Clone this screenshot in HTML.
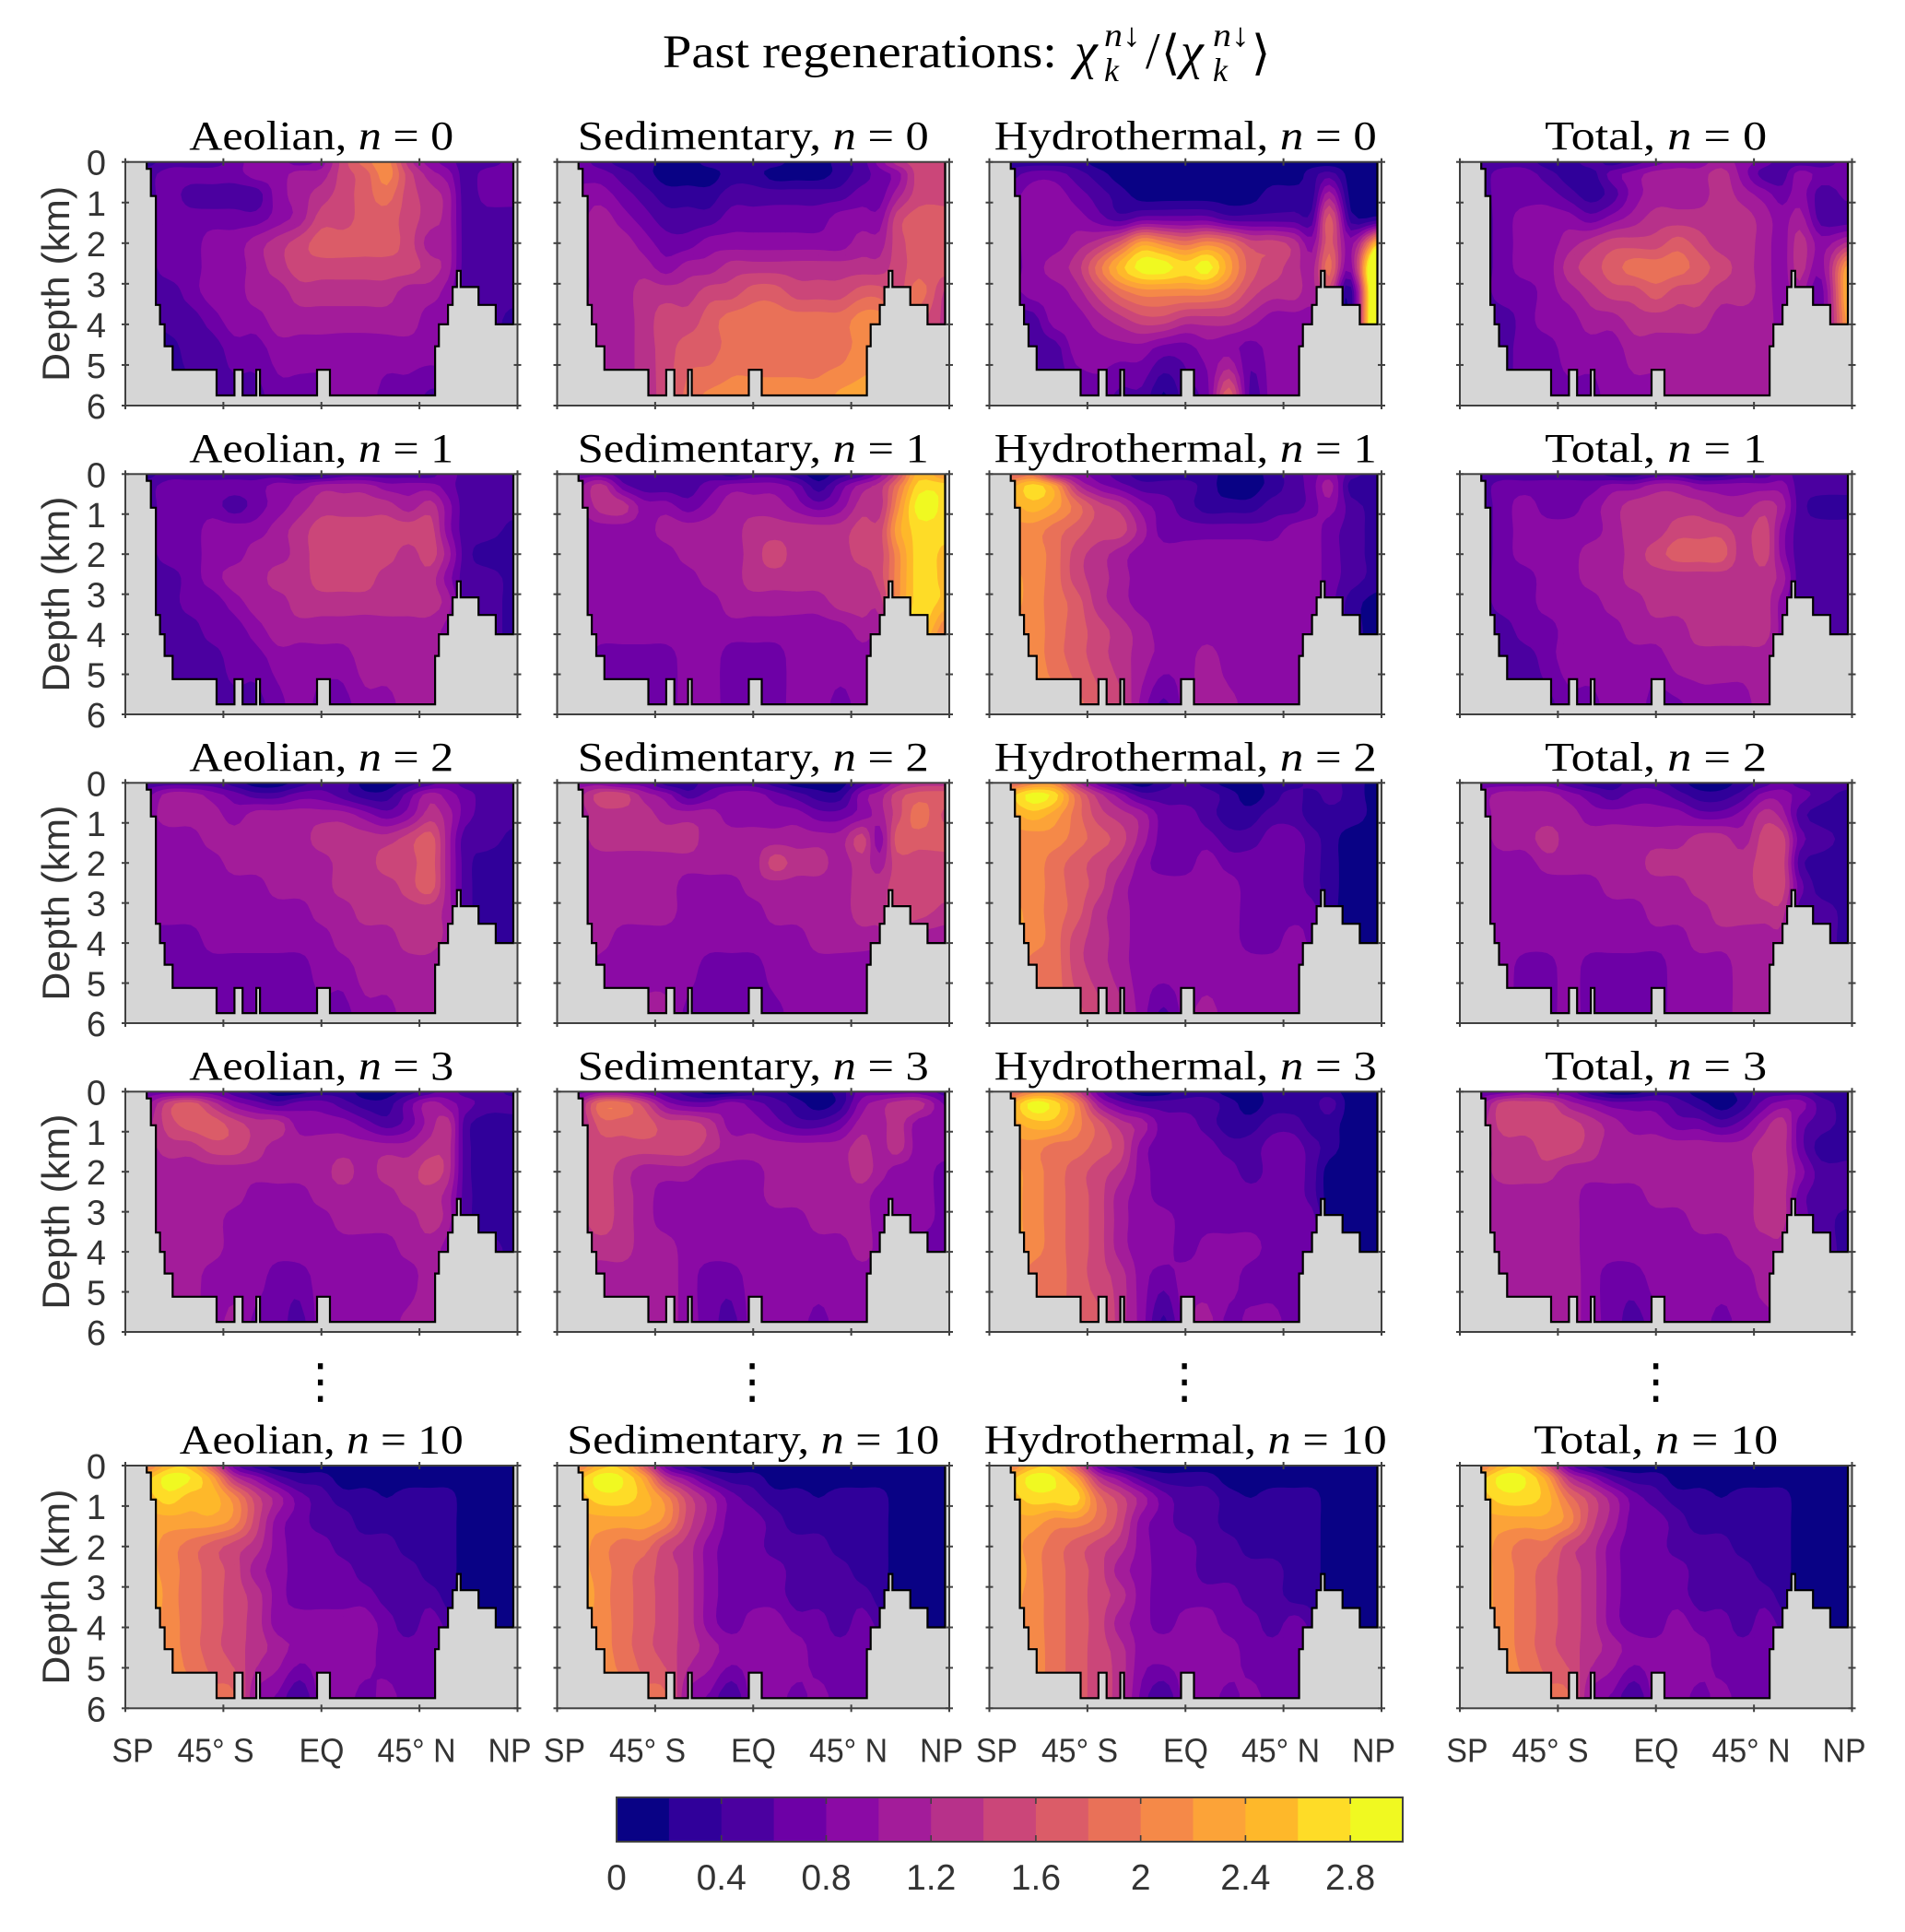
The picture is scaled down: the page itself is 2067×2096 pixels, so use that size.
<!DOCTYPE html>
<html lang="en">
<head>
<meta charset="utf-8">
<title>Past regenerations</title>
<style>
html,body{margin:0;padding:0;background:#fff;}
svg{display:block;}
.ser{font-family:"Liberation Serif","DejaVu Serif","DejaVu Sans",serif;fill:#000;}
.san{font-family:"Liberation Sans","DejaVu Sans",sans-serif;fill:#333;}
</style>
</head>
<body>
<svg id="fig" xmlns="http://www.w3.org/2000/svg" width="2067" height="2096" viewBox="0 0 2067 2096">
<rect x="0" y="0" width="2067" height="2096" fill="#fff"/>
<g>
<text class="ser" x="719" y="73" font-size="51" textLength="428" lengthAdjust="spacingAndGlyphs">Past regenerations:</text>
<text class="ser" x="1166" y="74" font-size="56" font-style="italic">χ</text>
<text class="ser" x="1198" y="50" font-size="36" font-style="italic" textLength="40" lengthAdjust="spacingAndGlyphs">n↓</text>
<text class="ser" x="1198" y="88" font-size="36" font-style="italic">k</text>
<text class="ser" x="1243" y="74" font-size="56">/</text>
<text class="ser" x="1260" y="75" font-size="52">⟨</text>
<text class="ser" x="1281" y="74" font-size="56" font-style="italic">χ</text>
<text class="ser" x="1316" y="50" font-size="36" font-style="italic" textLength="40" lengthAdjust="spacingAndGlyphs">n↓</text>
<text class="ser" x="1316" y="88" font-size="36" font-style="italic">k</text>
<text class="ser" x="1358" y="75" font-size="52">⟩</text>
</g>
</svg>
<script>
// Grid of every panel: latitude (deg) and depth (km). Values are in tenths of chi/<chi>.
const lats=[-81,-70,-60,-50,-40,-30,-20,-10,0,10,20,30,40,50,58,66,76,90];
const depths=[0,0.3,0.8,1.4,2,2.6,3.2,3.9,4.6,6];
const depthTicks=[0,1,2,3,4,5,6];
const latTicks=[-90,-45,0,45,90];
const latTickLabels=["SP","45° S","EQ","45° N","NP"];
const bandColors=["#090285","#30009a","#4b00a0","#6d00a6","#8b0aa5","#a31c9a","#b7318a","#cb4679","#db5c68","#e97158","#f58948","#fca338","#feb82a","#fedc27","#f0f921"];
const colorbarTicks=[0,0.4,0.8,1.2,1.6,2,2.4,2.8];
const colorbarLabels=["0","0.4","0.8","1.2","1.6","2","2.4","2.8"];
const bathyEdges=[-80.2,-78.3,-76,-74.1,-72,-68.3,-48.1,-39.9,-36.2,-29.9,-28.2,-2,3.9,52.2,53.9,58.1,60.2,62.2,63.9,72.1,80,88.1];
const bathyDepths=[0.17,0.84,3.52,4,4.54,5.12,5.75,5.12,5.75,5.12,5.75,5.12,5.75,4.54,4,3.52,3.08,2.68,3.08,3.52,4];

const aeolianN0=[[3,5,5,5,7,9,9,7,9,15,19,21,13,9,7,5,5,7],[5,7,7,7,7,9,9,11,11,15,17,21,15,11,9,5,7,7],[5,7,5,5,5,5,9,11,13,15,17,19,15,13,11,5,7,7],[5,7,7,7,7,7,9,11,15,15,17,17,15,13,11,5,5,5],[5,7,7,9,9,11,13,15,17,17,17,17,15,11,11,5,5,5],[5,7,7,9,9,11,13,15,15,15,15,15,15,13,11,5,5,5],[5,5,7,9,9,11,11,13,13,13,13,13,11,11,9,5,5,5],[3,5,5,7,9,9,11,11,11,11,11,11,11,9,9,5,5,3],[3,3,5,5,7,7,9,9,9,9,9,9,9,9,9,5,5,3],[3,3,3,5,5,5,7,7,7,9,9,7,7,5,5,5,5,3]];
const sedimentaryN0=[[7,5,3,3,1,1,3,3,3,3,1,1,3,5,9,13,15,15],[7,7,5,3,1,1,1,3,3,1,1,1,3,5,7,9,15,15],[9,9,7,5,3,3,3,5,5,5,5,5,5,7,7,11,15,15],[9,11,9,7,5,5,5,7,7,7,7,7,9,9,9,15,17,17],[9,11,11,9,7,7,9,9,9,9,9,9,9,11,11,15,17,17],[9,11,11,11,9,11,11,13,13,13,13,13,13,13,13,15,17,17],[9,11,11,13,13,13,15,15,17,17,15,15,15,17,17,15,19,13],[11,11,11,13,15,15,17,19,19,19,19,19,19,21,21,19,17,13],[11,11,11,13,15,17,17,19,19,19,19,19,19,21,21,19,17,13],[11,11,11,13,15,19,21,21,21,21,21,21,23,23,23,23,17,13]];
const hydrothermalN0=[[3,3,3,3,1,1,1,1,1,1,1,1,1,1,1,1,1,1],[5,7,7,5,3,1,1,1,1,1,1,1,1,1,3,5,1,1],[7,9,9,7,5,3,1,1,1,1,1,1,3,3,3,11,1,1],[7,9,9,9,7,5,7,7,7,7,5,5,5,5,5,17,3,3],[7,9,9,11,13,17,23,21,19,21,19,15,15,13,9,17,9,27],[7,9,11,13,19,25,29,29,27,29,23,17,15,13,11,19,9,45],[7,9,9,11,15,19,21,21,21,21,19,15,13,13,11,15,3,45],[5,5,9,9,11,13,15,15,13,13,13,11,9,9,9,9,3,45],[3,5,5,9,9,9,9,7,7,9,9,7,9,9,9,9,3,45],[5,5,5,5,7,5,5,1,5,7,19,5,9,9,9,9,3,45]];
const totalN0=[[5,5,5,3,3,5,3,5,7,9,9,11,9,7,5,5,5,7],[5,7,7,5,3,3,7,9,11,11,11,13,9,5,5,9,7,7],[5,7,7,7,5,3,5,9,11,11,11,13,11,9,7,9,5,7],[5,7,9,9,9,7,9,11,13,13,13,13,13,11,9,11,5,5],[5,7,9,9,11,13,15,15,15,17,15,13,13,11,9,13,9,13],[5,7,9,9,13,15,17,19,19,19,17,15,13,11,9,13,9,25],[5,7,7,9,11,13,15,15,17,15,15,13,13,11,9,11,7,27],[5,5,7,9,9,11,11,13,13,13,13,11,11,11,9,9,7,25],[3,5,7,7,9,9,9,11,11,11,11,11,11,11,9,9,7,23],[3,5,7,7,7,7,9,9,9,11,11,11,11,11,9,9,7,23]];

const aeolianN1=[[3,5,5,5,5,5,5,3,3,5,5,5,5,5,7,5,5,5],[5,7,7,7,7,7,9,9,11,11,11,9,9,9,7,5,5,5],[5,7,7,7,5,7,9,11,13,13,13,13,11,13,9,5,5,5],[5,7,7,9,9,9,11,13,15,15,15,15,15,15,9,5,5,3],[5,7,7,9,9,11,11,13,15,15,15,15,13,15,11,5,3,3],[5,5,7,9,11,11,13,13,15,15,15,13,13,13,9,5,5,3],[5,5,7,7,9,11,11,13,13,13,13,13,13,13,11,5,5,3],[5,5,5,7,7,9,11,11,11,11,11,11,11,11,9,5,5,3],[5,5,5,5,7,7,9,9,9,9,11,11,11,11,9,5,5,3],[5,5,5,5,5,5,7,9,7,7,9,9,11,11,9,5,3,3]];
const sedimentaryN1=[[7,7,5,5,5,5,5,3,5,5,3,1,3,5,9,15,25,21],[9,13,7,5,5,5,7,9,9,9,7,3,7,11,13,19,27,27],[9,13,13,9,9,7,9,11,11,11,9,7,9,13,13,21,29,27],[9,9,9,9,11,11,11,11,13,13,13,13,13,15,15,23,27,27],[9,9,9,9,9,11,11,11,13,15,13,13,13,15,15,21,27,25],[9,9,9,9,9,9,11,11,13,13,13,13,13,13,15,21,27,25],[9,9,9,9,9,9,9,11,11,11,11,11,13,13,13,21,27,25],[9,9,9,9,9,9,9,9,9,9,9,9,9,11,11,21,27,19],[9,7,7,7,7,9,9,7,7,7,9,9,9,9,9,13,19,19],[7,7,7,7,7,9,9,7,7,7,9,9,7,9,9,13,19,19]];
const hydrothermalN1=[[17,19,11,9,7,5,3,3,3,3,1,1,3,5,7,9,5,3],[23,27,23,13,9,7,5,5,5,3,1,1,3,5,7,11,3,3],[23,25,23,19,15,13,9,7,5,3,3,3,5,5,7,9,5,3],[21,21,19,17,15,15,11,7,7,7,7,7,7,9,9,7,5,3],[21,21,19,15,13,11,9,9,9,9,9,9,9,9,9,7,5,3],[23,21,19,15,13,11,9,9,9,9,9,9,9,9,9,7,5,3],[23,21,19,17,13,11,9,9,9,9,9,9,9,9,9,7,3,1],[21,21,19,17,15,13,11,9,9,9,9,9,9,9,9,7,3,1],[21,21,19,17,15,13,11,9,9,11,9,9,9,9,9,7,3,1],[21,21,21,19,17,15,9,5,9,11,11,9,9,9,9,7,3,1]];
const totalN1=[[5,5,5,5,5,5,3,3,5,5,3,3,5,5,7,5,5,5],[5,7,7,7,7,7,9,9,11,11,9,9,9,9,9,5,5,5],[5,7,9,7,7,9,11,13,13,13,13,11,11,13,11,5,3,3],[5,7,9,9,9,9,11,13,13,15,15,15,13,15,9,5,5,5],[5,7,9,9,9,11,11,13,15,17,17,17,13,15,9,5,5,5],[5,7,7,9,9,11,11,13,13,13,13,13,13,13,11,5,5,5],[5,7,7,9,9,9,11,11,13,13,13,13,13,13,9,5,5,5],[5,5,7,7,9,9,9,11,11,11,13,13,13,13,9,5,5,5],[5,5,5,7,9,9,9,9,9,11,11,11,11,11,9,5,5,5],[5,5,5,5,7,7,9,9,7,7,9,9,9,11,9,5,5,5]];

const aeolianN2=[[5,5,5,5,3,1,1,3,5,5,1,1,3,5,7,5,5,5],[7,11,11,9,7,5,5,7,7,5,3,3,7,11,9,7,5,5],[9,11,11,11,9,11,11,11,11,11,9,7,9,13,11,7,5,5],[9,9,9,11,11,11,11,11,13,13,13,13,15,17,11,5,5,3],[9,9,9,9,11,11,11,11,11,13,13,15,15,17,11,5,3,3],[9,9,9,9,9,9,11,11,11,13,13,13,15,17,11,5,3,3],[9,9,9,9,9,9,9,9,11,11,13,13,13,13,11,5,3,3],[7,7,7,9,9,9,9,9,9,11,11,11,13,13,11,5,3,3],[7,7,7,7,7,7,7,7,9,9,11,11,11,11,9,5,3,3],[7,7,7,7,7,7,7,7,7,7,9,9,11,11,9,5,3,3]];
const sedimentaryN2=[[9,9,7,7,3,3,5,5,5,3,1,1,1,5,7,11,13,13],[11,15,15,11,9,5,7,9,9,7,5,3,3,9,11,15,17,17],[11,13,13,13,11,11,11,9,9,9,9,7,7,9,11,15,19,15],[11,13,13,13,13,13,11,11,11,11,11,11,11,15,9,17,17,17],[11,11,11,11,11,11,11,11,11,15,13,13,11,13,11,15,15,15],[11,11,11,11,11,9,9,9,11,11,11,11,11,13,13,15,15,15],[11,11,11,11,11,9,9,9,9,11,11,11,11,13,13,15,15,13],[11,11,9,9,9,9,9,9,9,9,9,11,11,11,11,13,11,11],[11,9,9,9,9,9,7,7,7,9,9,9,9,9,9,11,11,11],[9,9,9,11,11,7,7,7,7,7,9,9,9,9,9,11,11,11]];
const hydrothermalN2=[[17,21,21,13,7,3,1,3,5,3,1,1,3,3,5,5,3,1],[25,29,27,19,13,9,5,5,5,5,3,1,3,5,3,5,3,1],[23,25,23,19,15,13,11,7,7,5,3,3,5,5,3,3,3,1],[21,21,21,19,17,15,11,7,7,7,5,5,7,7,5,3,1,1],[21,21,19,17,15,13,9,7,7,9,7,7,7,7,5,3,1,1],[21,21,19,17,15,11,9,9,9,9,9,7,7,7,5,3,1,1],[23,21,19,17,13,11,9,9,9,9,9,7,7,7,7,3,1,1],[23,21,19,15,13,11,9,9,9,9,9,7,7,9,7,3,1,1],[21,19,19,15,13,11,9,9,9,9,9,9,9,9,9,3,1,1],[19,19,19,17,15,13,9,5,9,11,9,9,9,9,9,3,1,1]];
const totalN2=[[7,7,7,7,5,3,3,5,5,3,1,1,3,5,7,5,5,5],[9,11,11,11,9,7,5,7,7,5,3,3,5,9,9,7,5,3],[9,11,11,11,11,9,9,9,9,9,7,7,9,13,11,5,3,3],[9,11,11,13,11,11,11,11,11,11,13,13,11,15,15,7,5,3],[9,9,9,11,11,11,11,11,13,13,13,13,13,15,15,5,3,3],[9,9,9,9,9,9,11,11,11,11,13,13,13,15,15,7,3,3],[9,9,9,9,9,9,9,9,11,11,11,13,13,13,13,5,5,3],[9,9,9,9,9,9,9,9,9,9,11,11,11,11,11,5,5,3],[9,9,7,7,9,7,7,7,7,9,9,9,11,11,11,5,5,3],[9,9,7,7,9,7,7,7,7,9,9,9,11,11,11,5,5,3]];

const aeolianN3=[[7,7,7,7,5,3,1,1,3,3,1,1,3,5,7,5,5,3],[9,15,17,13,9,7,5,7,7,5,3,3,7,11,9,7,5,5],[11,15,17,17,15,13,13,9,9,9,7,5,7,11,13,5,3,3],[11,13,13,15,15,13,11,11,11,11,11,11,11,13,13,5,3,3],[11,11,11,11,11,11,11,11,11,13,11,13,13,15,13,5,3,3],[11,11,11,11,11,9,9,9,11,11,11,11,13,13,11,5,3,3],[11,11,11,11,9,9,9,9,9,11,11,11,11,13,11,5,3,3],[11,11,11,11,9,9,9,9,9,9,9,9,11,11,9,5,5,3],[11,11,11,9,9,9,7,7,9,9,9,9,9,11,9,5,5,3],[11,11,11,9,11,7,7,5,9,9,9,9,11,11,9,5,5,3]];
const sedimentaryN3=[[7,9,9,7,5,3,1,1,3,3,1,1,3,7,7,7,7,5],[11,19,19,15,9,7,7,9,7,5,3,1,3,9,11,13,13,7],[11,17,17,17,15,15,13,9,9,7,5,5,7,11,11,13,9,9],[13,15,15,15,15,15,13,11,11,11,11,11,11,13,11,13,9,9],[13,15,13,11,11,11,9,9,9,11,11,11,11,13,11,9,9,7],[13,15,13,11,9,9,9,9,9,11,11,11,11,11,9,9,9,7],[13,15,13,11,9,9,9,9,9,9,9,11,11,11,9,9,9,7],[13,13,13,11,11,9,9,9,9,9,9,9,9,11,9,7,7,7],[11,11,11,11,11,9,7,7,9,9,9,9,9,9,9,7,7,7],[11,11,11,11,11,9,7,5,9,9,9,7,9,9,9,7,7,7]];
const hydrothermalN3=[[17,21,21,15,7,3,1,1,3,3,1,1,3,3,3,3,1,1],[23,29,27,21,11,7,5,5,5,5,3,1,3,3,3,5,1,1],[23,25,25,21,17,13,11,7,7,5,3,3,5,5,3,3,1,1],[21,21,19,19,17,15,9,7,7,7,5,5,7,7,5,3,1,1],[23,21,19,17,15,13,9,7,7,7,7,5,7,7,5,1,1,1],[23,21,19,17,15,11,9,7,7,7,7,7,7,7,5,1,1,1],[23,21,19,17,15,11,9,9,7,7,7,7,7,7,7,1,1,1],[23,21,19,17,15,11,9,9,7,9,9,9,7,7,7,1,1,1],[21,19,19,17,15,13,9,7,9,9,9,7,7,7,7,1,1,1],[19,19,19,17,17,13,9,3,9,11,7,9,9,7,7,1,1,1]];
const totalN3=[[7,7,9,7,7,3,1,1,3,3,1,1,3,5,5,5,3,3],[9,15,15,15,11,9,7,7,7,5,3,1,3,7,9,9,5,3],[11,15,15,15,15,13,11,9,9,7,7,5,7,11,13,7,5,3],[11,13,13,15,15,13,11,11,11,11,11,11,11,13,13,7,3,3],[11,13,13,13,11,11,11,11,11,11,11,11,11,13,13,9,5,5],[11,11,11,11,11,9,9,9,11,11,11,11,11,13,13,7,5,5],[11,11,11,11,11,9,9,9,9,9,11,11,11,13,13,7,5,3],[11,11,11,11,11,9,9,9,9,9,9,9,11,11,11,5,5,3],[11,11,11,11,11,9,7,7,9,9,9,9,9,11,11,5,5,3],[11,11,11,11,11,9,7,5,7,9,9,7,9,9,9,5,5,3]];

const aeolianN10=[[19,25,25,17,7,3,1,1,1,1,1,1,1,1,1,1,1,1],[25,29,28,23,13,9,5,3,3,1,1,1,1,1,1,1,1,1],[25,27,25,25,21,15,11,7,5,3,3,2,3,3,3,1,1,1],[23,23,23,23,21,15,9,7,5,5,3,3,3,3,3,1,1,1],[23,21,19,17,15,13,9,7,7,5,5,5,3,3,3,1,1,1],[23,21,19,17,15,11,9,7,7,7,5,5,5,3,3,1,1,1],[25,21,19,17,15,13,9,7,7,7,7,5,5,5,3,1,1,1],[23,21,19,17,15,13,9,9,9,9,9,7,5,7,5,1,1,1],[21,21,19,17,15,13,11,9,9,9,9,7,7,7,7,1,1,1],[21,21,21,19,19,9,7,3,9,9,7,9,7,7,7,1,1,1]];
const sedimentaryN10=[[19,25,25,17,7,3,1,1,1,1,1,1,1,1,1,1,1,1],[25,29,28,23,13,9,5,3,3,1,1,1,1,1,1,1,1,1],[25,27,27,25,21,15,11,7,5,3,3,2,3,3,3,1,1,1],[23,23,23,23,21,15,11,7,7,5,3,3,3,3,3,1,1,1],[23,21,19,19,15,13,9,7,7,5,5,5,3,3,3,1,1,1],[23,21,19,17,15,13,9,7,7,7,5,5,5,3,3,1,1,1],[25,21,19,17,15,13,9,7,7,7,5,5,5,5,3,1,1,1],[23,21,19,17,15,13,9,7,9,9,7,7,5,7,5,1,1,1],[21,21,19,17,15,13,11,9,9,9,9,7,7,7,7,1,1,1],[21,21,21,19,19,9,7,3,9,9,7,9,7,7,7,1,1,1]];
const hydrothermalN10=[[19,25,25,17,7,3,1,1,1,1,1,1,1,1,1,1,1,1],[25,29,28,23,13,9,5,3,3,3,1,1,1,1,1,1,1,1],[25,27,27,27,19,15,11,7,5,5,3,2,3,3,3,1,1,1],[23,23,21,21,19,15,9,7,5,5,3,3,3,3,3,1,1,1],[23,21,19,17,15,13,9,7,7,5,5,3,3,3,3,1,1,1],[25,21,19,17,15,11,9,7,7,5,5,5,5,3,3,1,1,1],[23,21,19,17,15,13,9,7,7,7,7,5,5,3,3,1,1,1],[23,21,19,17,15,11,9,7,9,9,7,7,5,7,5,1,1,1],[21,21,19,17,15,13,9,9,9,9,9,7,7,7,7,1,1,1],[21,21,19,17,15,13,7,3,9,9,7,9,7,7,7,1,1,1]];
const totalN10=[[19,25,25,17,7,3,1,1,1,1,1,1,1,1,1,1,1,1],[25,29,28,23,13,9,5,3,3,1,1,1,1,1,1,1,1,1],[25,27,27,25,19,15,11,7,5,3,3,2,3,3,3,1,1,1],[23,23,23,23,21,15,11,7,7,5,3,3,3,3,3,1,1,1],[23,21,19,19,15,13,9,7,7,5,5,5,3,3,3,1,1,1],[23,21,19,17,15,13,9,7,7,7,5,5,5,3,3,1,1,1],[23,21,19,17,15,13,9,7,7,7,5,5,5,5,3,1,1,1],[23,21,19,17,15,13,9,7,7,9,7,7,5,7,5,1,1,1],[21,21,19,17,15,13,11,9,9,9,9,7,7,7,7,1,1,1],[21,21,21,19,19,9,7,3,9,9,7,9,7,7,7,1,1,1]];

const sourceNames=["Aeolian","Sedimentary","Hydrothermal","Total"];
const iterations=[0,1,2,3,10];
const fieldGrid=[
 [aeolianN0,sedimentaryN0,hydrothermalN0,totalN0],
 [aeolianN1,sedimentaryN1,hydrothermalN1,totalN1],
 [aeolianN2,sedimentaryN2,hydrothermalN2,totalN2],
 [aeolianN3,sedimentaryN3,hydrothermalN3,totalN3],
 [aeolianN10,sedimentaryN10,hydrothermalN10,totalN10]
];

// Layout (not data)
const colLeft=[136,604.5,1073.5,1584];
const panelW=425.5;
const rowTop=[175.7,514.3,849.3,1184.3,1590];
const rowH=[264.3,260.7,260.7,260.7,263.3];
const titleW=[287,381,415,241];
const titleW10=[308,404,437,265];
const xLabelOffset=[8,98,213,316,417];
const NS='http://www.w3.org/2000/svg';
const fig=document.getElementById('fig');
function el(tag,attrs,parent){
  const e=document.createElementNS(NS,tag);
  for(const k in attrs){e.setAttribute(k,attrs[k]);}
  parent.appendChild(e);
  return e;
}
function slug(s){return s.toLowerCase();}
function cr(a,b,c,d,t){return 0.5*((2*b)+(c-a)*t+(2*a-5*b+4*c-d)*t*t+(3*b-a-3*c+d)*t*t*t);}
const F=4;
function upsample1(arr){
  const out=[];const n=arr.length;
  for(let i=0;i<n-1;i++){
    for(let s=0;s<F;s++){
      out.push(cr(arr[Math.max(i-1,0)],arr[i],arr[i+1],arr[Math.min(i+2,n-1)],s/F));
    }
  }
  out.push(arr[n-1]);
  return out;
}
function upsampleField(field){
  const rows=field.map(upsample1);
  const nx=rows[0].length;
  const cols=[];
  for(let i=0;i<nx;i++){cols.push(upsample1(rows.map(r=>r[i])));}
  const ny=cols[0].length;
  const res=[];
  for(let j=0;j<ny;j++){const r=[];for(let i=0;i<nx;i++){r.push(cols[i][j]);}res.push(r);}
  return res;
}
function bandPath(z,xs,ys,t){
  const out=[];
  const f=v=>v.toFixed(1);
  for(let j=0;j<ys.length-1;j++){
    let run=-1;
    const r0=z[j],r1=z[j+1];
    for(let i=0;i<xs.length-1;i++){
      const a=r0[i],b=r0[i+1],c=r1[i+1],d=r1[i];
      const full=a>=t&&b>=t&&c>=t&&d>=t;
      if(full){if(run<0)run=i;continue;}
      if(run>=0){
        out.push('M'+f(xs[run])+' '+f(ys[j])+'H'+f(xs[i])+'V'+f(ys[j+1])+'H'+f(xs[run])+'Z');
        run=-1;
      }
      if(a<t&&b<t&&c<t&&d<t)continue;
      const pts=[[xs[i],ys[j],a],[xs[i+1],ys[j],b],[xs[i+1],ys[j+1],c],[xs[i],ys[j+1],d]];
      const poly=[];
      for(let k=0;k<4;k++){
        const p=pts[k],q=pts[(k+1)%4];
        if(p[2]>=t)poly.push([p[0],p[1]]);
        if((p[2]>=t)!==(q[2]>=t)){
          const u=(t-p[2])/(q[2]-p[2]);
          poly.push([p[0]+(q[0]-p[0])*u,p[1]+(q[1]-p[1])*u]);
        }
      }
      out.push('M'+poly.map(p=>f(p[0])+' '+f(p[1])).join('L')+'Z');
    }
    if(run>=0){
      const e=xs.length-1;
      out.push('M'+f(xs[run])+' '+f(ys[j])+'H'+f(xs[e])+'V'+f(ys[j+1])+'H'+f(xs[run])+'Z');
    }
  }
  return out.join('');
}
function fineAxis(arr,scale){return upsample1Linear(arr).map(scale);}
function upsample1Linear(arr){
  const out=[];
  for(let i=0;i<arr.length-1;i++){for(let s=0;s<F;s++){out.push(arr[i]+(arr[i+1]-arr[i])*s/F);}}
  out.push(arr[arr.length-1]);
  return out;
}
const axisColor='#404040';

function drawPanel(r,c){
  const L=colLeft[c],T=rowTop[r],H=rowH[r],W=panelW;
  const xScale=lat=>L+(lat+90)/180*W;
  const yScale=d=>T+d/6*H;
  const n=iterations[r];
  const src=sourceNames[c];
  const g=el('g',{},fig);
  
  

  const bg=el('rect',{x:L,y:T,width:W,height:H,fill:bandColors[0]},g);
  
  

  const z=upsampleField(fieldGrid[r][c]);
  const xs=fineAxis(lats,xScale);
  const ys=fineAxis(depths,yScale);
  for(let k=1;k<bandColors.length;k++){
    const d=bandPath(z,xs,ys,k*2);
    if(!d)continue;
    const p=el('path',{d:d,fill:bandColors[k]},g);
    
    
  }

  // land mask from bathymetry
  let line='M'+xScale(bathyEdges[0]).toFixed(1)+' '+yScale(0).toFixed(1);
  for(let i=0;i<bathyDepths.length;i++){
    const y=yScale(bathyDepths[i]).toFixed(1);
    line+='V'+y+'H'+xScale(bathyEdges[i+1]).toFixed(1);
  }
  line+='V'+yScale(0).toFixed(1);
  const land='M'+xScale(-90)+' '+yScale(0)+'H'+line.slice(1).replace(/^[\d.]+ [\d.]+/,m=>m.split(' ')[0])+'H'+xScale(90)+'V'+yScale(6)+'H'+xScale(-90)+'Z';
  const landPath=el('path',{d:land,fill:'#d6d6d6'},g);
  
  
  const coast=el('path',{d:line,fill:'none',stroke:'#000','stroke-width':2.2},g);
  
  

  // axes box
  const box=el('rect',{x:L,y:T,width:W,height:H,fill:'none',stroke:axisColor,'stroke-width':2},g);
  
  

  // ticks
  depthTicks.forEach(dv=>{
    const y=yScale(dv);
    const t1=el('line',{x1:L-4,x2:L+4,y1:y,y2:y,stroke:axisColor,'stroke-width':2},g);
    
    
    const t2=el('line',{x1:L+W-4,x2:L+W+4,y1:y,y2:y,stroke:axisColor,'stroke-width':2},g);
    
    
    if(c===0){
      const tx=el('text',{x:L-21,y:y+14,'text-anchor':'end','font-size':38,class:'san'},g);
      tx.textContent=String(dv);
      
      
    }
  });
  latTicks.forEach((lv,i)=>{
    const x=xScale(lv);
    const t1=el('line',{x1:x,x2:x,y1:T-4,y2:T+4,stroke:axisColor,'stroke-width':2},g);
    
    
    const t2=el('line',{x1:x,x2:x,y1:T+H-4,y2:T+H+4,stroke:axisColor,'stroke-width':2},g);
    
    
    if(r===iterations.length-1){
      const tx=el('text',{transform:'translate('+(L+xLabelOffset[i])+' '+(T+H+58)+') scale(0.94 1)','text-anchor':'middle','font-size':36,class:'san'},g);
      tx.textContent=latTickLabels[i];
      
      
    }
  });

  // title
  const tw=(n===10?titleW10:titleW)[c];
  const title=el('text',{x:L+W/2,y:T-13.5,'text-anchor':'middle','font-size':44,class:'ser',textLength:tw,lengthAdjust:'spacingAndGlyphs'},g);
  
  
  const t1=el('tspan',{},title);t1.textContent=src+', ';
  const t2=el('tspan',{'font-style':'italic'},title);t2.textContent='n';
  const t3=el('tspan',{},title);t3.textContent=' = '+n;

  if(c===0){
    const cy=T+H/2;
    const yl=el('text',{transform:'translate(75 '+cy+') rotate(-90)','text-anchor':'middle','font-size':42,class:'san',textLength:212,lengthAdjust:'spacingAndGlyphs'},g);
    yl.textContent='Depth (km)';
    
    
  }
}
for(let r=0;r<iterations.length;r++){for(let c=0;c<sourceNames.length;c++){drawPanel(r,c);}}

// ellipses between n=3 and n=10
colLeft.forEach((L,c)=>{
  const t=el('text',{x:L+panelW/2-(c===3?0:1),y:1516,'text-anchor':'middle','font-size':52,fill:'#000','font-family':'"DejaVu Sans",sans-serif'},fig);
  t.textContent='⋮';
  
  
});

// colorbar
const cbL=669,cbR=1522,cbT=1950,cbB=1998,cbMax=3;
const cbScale=v=>cbL+v/cbMax*(cbR-cbL);
const cb=el('g',{},fig);


bandColors.forEach((col,i)=>{
  const x0=cbScale(i*0.2),x1=cbScale((i+1)*0.2);
  const s=el('rect',{x:x0,y:cbT,width:x1-x0+0.5,height:cbB-cbT,fill:col},cb);
  
  
});
const cbBox=el('rect',{x:cbL,y:cbT,width:cbR-cbL,height:cbB-cbT,fill:'none',stroke:axisColor,'stroke-width':2},cb);


colorbarTicks.forEach((v,i)=>{
  const x=cbScale(v);
  const a=el('line',{x1:x,x2:x,y1:cbT,y2:cbT+7,stroke:axisColor,'stroke-width':1.6},cb);
  
  
  const b=el('line',{x1:x,x2:x,y1:cbB-7,y2:cbB,stroke:axisColor,'stroke-width':1.6},cb);
  
  
  const t=el('text',{x:x,y:2050,'text-anchor':'middle','font-size':39,class:'san'},cb);
  t.textContent=colorbarLabels[i];
  
  
});
</script>
</body>
</html>
